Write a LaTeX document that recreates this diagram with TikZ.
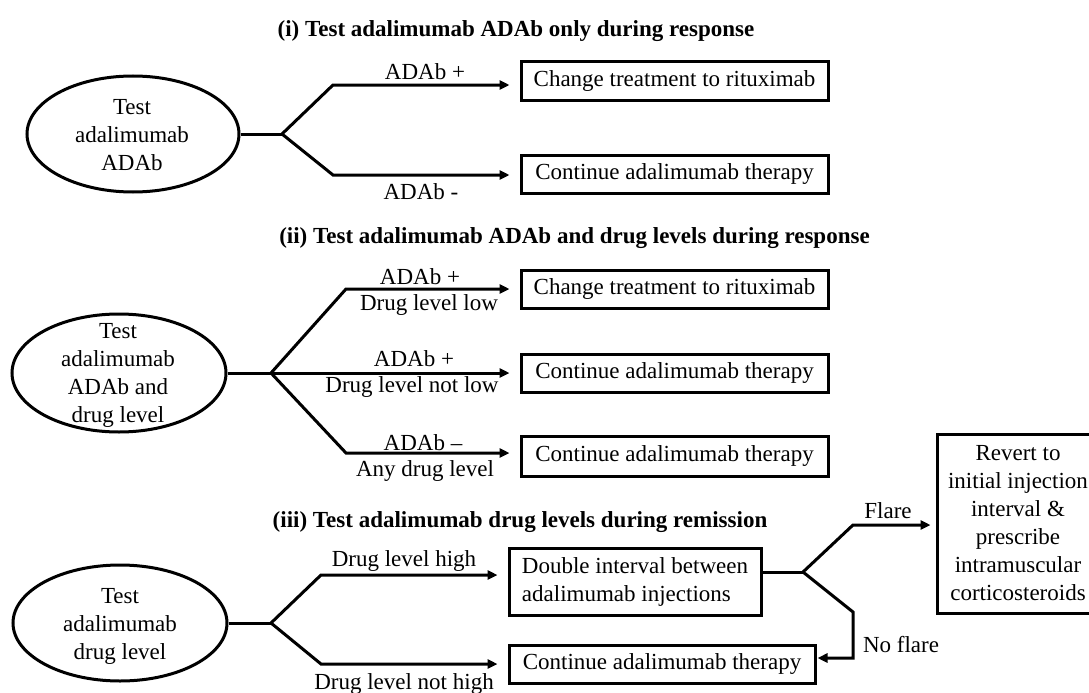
\documentclass[tikz,border=0pt]{standalone}
\usepackage{fontspec}
\setmainfont{Liberation Serif}
\usetikzlibrary{arrows.meta,shapes.geometric}
\begin{document}
\begin{tikzpicture}[x=1pt,y=-1pt,
  every node/.style={font=\fontsize{23}{28}\selectfont, inner sep=0pt},
  conn/.style={line width=3pt},
  arr/.style={conn, -{Triangle[length=10pt,width=9pt]}, shorten >=10pt},
  arrb/.style={conn, -{Triangle[length=10pt,width=9pt]}, shorten >=1pt},
  box/.style={draw, line width=3pt, minimum height=38pt},
  oval/.style={draw, ellipse, line width=3pt},
  ttl/.style={font=\fontsize{23}{28}\selectfont\bfseries}
]
\useasboundingbox (0,0) rectangle (1089,693);

% ---------- (i) ----------
\node[ttl] (ti1) at (516,31) {(i) Test adalimumab ADAb only during response};
\node[oval, minimum width=212pt, minimum height=116pt] (e1) at (133,134) {};
\node[align=center] (x1) at (132,135) {Test\\adalimumab\\ADAb};
\node[box, minimum width=307pt] (b1) at (674.5,81) {Change treatment to rituximab};
\node[box, minimum width=307pt] (b2) at (674.5,174.5) {Continue adalimumab therapy};
\coordinate (f1) at (282,134);
\coordinate (f1a) at (333,85);
\coordinate (f1b) at (333,175);
\draw[conn] (e1.east) -- (f1);
\draw[arr] (f1) -- (f1a) -- (f1a -| b1.west);
\draw[arr] (f1) -- (f1b) -- (f1b -| b2.west);
\node (l1) at (425,72) {ADAb +};
\node (l2) at (421,192) {ADAb -};

% ---------- (ii) ----------
\node[ttl] (ti2) at (574.5,238) {(ii) Test adalimumab ADAb and drug levels during response};
\node[oval, minimum width=214pt, minimum height=118pt] (e2) at (119,373) {};
\node[align=center] (x2) at (118,375) {Test\\adalimumab\\ADAb and\\drug level};
\node[box, minimum width=307pt] (b3) at (674.5,289) {Change treatment to rituximab};
\node[box, minimum width=307pt] (b4) at (674.5,373) {Continue adalimumab therapy};
\node[box, minimum width=307pt, minimum height=40pt] (b5) at (674.5,456) {Continue adalimumab therapy};
\coordinate (f2) at (271,373);
\coordinate (f2a) at (346,289);
\coordinate (f2c) at (346,453);
\draw[conn] (e2.east) -- (f2);
\draw[arr] (f2) -- (f2a) -- (f2a -| b3.west);
\draw[arr] (f2) -- (f2 -| b4.west);
\draw[arr] (f2) -- (f2c) -- (f2c -| b5.west);
\node (l3) at (420,277) {ADAb +};
\node (l4) at (429,305) {Drug level low};
\node (l5) at (414,359) {ADAb +};
\node (l6) at (412,387) {Drug level not low};
\node (l7) at (423,443) {ADAb \textendash};
\node (l8) at (425,471) {Any drug level};

% ---------- (iii) ----------
\node[ttl] (ti3) at (520,522) {(iii) Test adalimumab drug levels during remission};
\node[oval, minimum width=214pt, minimum height=116pt] (e3) at (120,623) {};
\node[align=center] (x3) at (120,626) {Test\\adalimumab\\drug level};
\node[box, minimum width=252pt, minimum height=67pt, align=left] (b6) at (635,581.5) {Double interval between\\adalimumab injections};
\node[box, minimum width=306pt] (b7) at (662,664) {Continue adalimumab therapy};
\node[box, minimum width=162pt, minimum height=179pt, align=center] (b8) at (1018,523.5) {Revert to\\initial injection\\interval \&\\prescribe\\intramuscular\\corticosteroids};
\coordinate (f3) at (271,623);
\coordinate (f3a) at (321,575);
\coordinate (f3b) at (321,664);
\draw[conn] (e3.east) -- (f3);
\draw[arr] (f3) -- (f3a) -- (f3a -| b6.west);
\draw[arr] (f3) -- (f3b) -- (f3b -| b7.west);
\node (l9) at (404,561) {Drug level high};
\node (l10) at (404,684) {Drug level not high};

\coordinate (f4) at (803,572);
\coordinate (f4a) at (853,525);
\coordinate (f4b) at (853,612);
\coordinate (f4c) at (853,658);
\draw[conn] (b6.east |- f4) -- (f4);
\draw[arr, shorten >=5pt] (f4) -- (f4a) -- (f4a -| b8.west);
\draw[arrb] (f4) -- (f4b) -- (f4c) -- (f4c -| b7.east);
\node (l11) at (888,511) {Flare};
\node (l12) at (901,645) {No flare};
\end{tikzpicture}
\end{document}
